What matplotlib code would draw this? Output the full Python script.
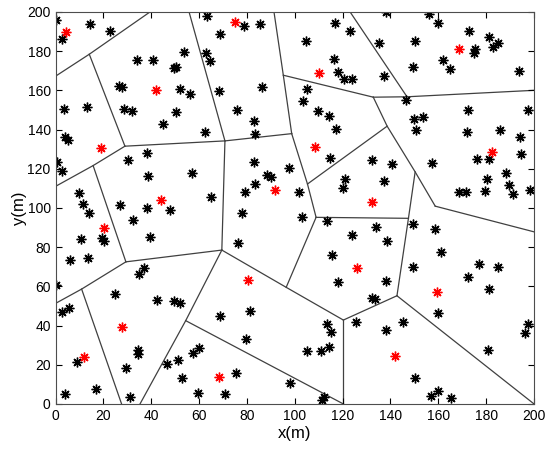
import matplotlib
matplotlib.use("Agg")
import matplotlib.pyplot as plt

plt.rcParams['font.family'] = ['Liberation Sans', 'DejaVu Sans']

# cluster heads (red)
red_x = [4.3, 42.0, 75.0, 110.2, 168.7, 19.2, 44.1, 20.3, 108.5, 91.8,
         182.4, 132.2, 27.9, 11.8, 80.3, 68.3, 125.9, 159.4, 142.0]
red_y = [189.8, 160.1, 194.9, 168.6, 181.3, 130.4, 104.0, 89.6, 130.9, 109.1,
         128.3, 103.1, 39.4, 24.1, 63.2, 13.6, 69.2, 57.3, 24.5]

# sensor nodes (black)
black_pts = [
    (0.1, 195.8), (2.9, 186.1), (14.4, 193.7), (22.7, 190.2), (33.9, 175.7), (40.8, 175.7),
    (53.7, 179.6), (49.3, 171.3), (50.3, 171.7), (26.5, 162.1), (27.6, 161.5), (52.0, 160.9),
    (56.2, 158.0), (3.6, 150.4), (13.2, 151.3), (28.7, 150.6), (32.1, 149.5), (50.2, 149.0),
    (45.0, 142.7), (3.9, 136.3), (5.4, 134.8), (62.5, 138.5), (63.2, 197.8), (62.9, 179.1),
    (64.6, 174.9),
    (78.8, 192.9), (85.5, 193.6), (68.7, 188.5), (68.5, 159.7), (86.4, 161.8), (76.0, 150.2),
    (83.1, 144.3), (83.4, 137.5), (116.9, 194.4), (123.1, 190.2), (104.7, 185.2), (116.2, 175.9),
    (118.2, 169.4), (120.6, 165.8), (123.8, 166.0), (105.3, 160.7), (103.6, 154.6), (109.9, 149.4),
    (114.1, 146.8), (117.3, 140.2),
    (138.0, 199.7), (156.2, 198.7), (159.8, 194.1), (172.9, 190.3), (135.4, 184.2), (150.3, 185.1),
    (181.0, 187.0), (184.9, 184.2), (182.8, 182.2), (175.4, 181.0), (174.7, 179.1), (161.9, 175.4),
    (149.6, 172.0), (165.0, 171.1), (137.1, 167.2), (193.6, 169.8), (146.6, 155.0), (172.4, 149.9),
    (197.3, 149.9), (149.9, 145.6), (153.6, 146.5), (150.6, 140.0), (172.0, 138.8), (185.9, 139.7),
    (194.3, 136.3),
    (194.6, 127.4), (176.1, 124.9), (181.3, 124.9), (132.2, 124.4), (140.6, 122.2), (157.3, 122.7),
    (188.4, 117.6), (180.3, 114.7), (137.4, 113.8), (189.7, 111.6), (198.2, 109.1), (168.7, 107.9),
    (171.7, 107.9), (179.7, 108.6), (191.2, 106.9), (133.9, 90.4), (149.6, 91.6), (158.7, 89.4),
    (138.5, 83.1), (161.1, 77.6), (149.6, 70.0), (176.8, 71.4), (184.9, 70.0),
    (172.6, 64.6), (138.1, 62.9), (181.3, 58.6), (132.2, 54.2), (133.6, 53.4), (159.8, 46.5),
    (145.4, 41.7), (197.5, 40.8), (196.4, 36.4), (138.1, 37.7), (180.8, 27.5), (150.3, 13.1),
    (159.7, 6.8), (156.9, 4.2), (165.4, 2.9),
    (102.9, 95.5), (113.6, 93.3), (124.1, 86.2), (115.7, 76.0), (118.2, 62.4), (125.6, 42.0),
    (113.4, 40.7), (115.2, 36.9), (114.8, 125.7), (97.7, 120.2), (120.9, 114.6), (120.3, 110.0),
    (83.0, 123.6), (88.3, 116.7), (90.0, 115.9), (83.4, 112.0), (79.2, 107.9), (101.9, 108.2),
    (65.0, 105.4), (77.8, 97.2), (76.2, 82.2),
    (0.4, 123.5), (2.9, 118.8), (30.4, 124.7), (38.3, 128.1), (38.7, 116.4), (56.9, 117.6),
    (9.9, 107.4), (11.3, 102.0), (13.9, 97.5), (26.9, 101.3), (38.3, 100.1), (47.8, 98.9),
    (32.2, 93.8), (39.5, 85.3), (10.6, 84.1), (19.5, 84.8), (20.3, 83.1), (6.0, 73.4),
    (13.4, 74.3), (37.1, 69.4), (35.0, 66.3),
    (0.0, 60.7), (24.8, 55.9), (42.3, 53.0), (49.5, 52.5), (52.0, 51.6), (2.5, 46.7),
    (5.7, 49.1), (34.3, 27.5), (34.6, 25.3), (8.8, 21.3), (29.4, 18.5), (46.4, 20.4),
    (51.3, 22.4), (52.7, 13.1), (57.3, 25.8), (60.0, 28.4), (3.9, 4.9), (16.9, 7.6),
    (31.1, 3.7), (59.4, 5.5),
    (68.7, 44.9), (81.3, 47.4), (79.5, 33.0), (75.3, 15.7), (70.8, 4.9), (98.0, 10.6),
    (105.0, 27.2), (110.9, 27.2), (114.5, 29.2), (112.0, 3.7), (111.5, 2.0),
]
black_x = [p[0] for p in black_pts]
black_y = [p[1] for p in black_pts]

# partition vertices
verts = {
    'A': (0, 167.2), 'B': (39.5, 200), 'C': (14.1, 178.4), 'D': (29.0, 131.5),
    'E': (0, 111.0), 'F': (15.7, 121.6), 'G': (70.8, 134.2), 'H': (55.8, 200),
    'I': (98.7, 137.9), 'J': (95.2, 167.7), 'K': (91.3, 200), 'L': (132.8, 156.5),
    'M': (123.1, 200), 'N': (146.9, 156.7), 'O': (200, 160.0), 'P': (138.6, 141.7),
    'Q': (105.3, 112.2), 'R': (108.9, 95.2), 'S': (150.3, 118.4), 'T': (158.7, 100.9),
    'U': (200, 87.8), 'V': (147.5, 94.7), 'W': (142.7, 55.2), 'X': (200, 0),
    'Y': (120.3, 42.8), 'Z': (120.3, 0), 'AA': (96.4, 59.5), 'AB': (69.5, 78.5),
    'AC': (29.4, 72.5), 'AD': (0, 51.3), 'AE': (10.9, 58.6), 'AF': (27.6, 0),
    'AG': (35.3, 0), 'AH': (54.4, 42.5),
}
edges = [
    ['A', 'C', 'B'], ['C', 'D'], ['D', 'F', 'E'], ['F', 'AC'], ['D', 'G'], ['H', 'G'],
    ['G', 'I'], ['K', 'J', 'I'], ['J', 'L'], ['M', 'N'], ['L', 'N', 'O'], ['I', 'Q', 'R'],
    ['Q', 'P'], ['L', 'P', 'S', 'T'], ['T', 'U'], ['S', 'V', 'W'], ['R', 'V'], ['R', 'AA'],
    ['AB', 'AA', 'Y'], ['W', 'Y'], ['W', 'X'], ['Y', 'Z'], ['G', 'AB'], ['AC', 'AB'],
    ['AD', 'AE', 'AC'], ['AE', 'AF'], ['AB', 'AH', 'AG'], ['AH', 'Z'],
]

fig = plt.figure(figsize=(5.5, 4.58), dpi=100)
ax = fig.add_axes([0.101, 0.118, 0.870, 0.856])

for e in edges:
    ax.plot([verts[v][0] for v in e], [verts[v][1] for v in e],
            color='0.25', lw=0.9, zorder=1)

star = (8, 2, 0)
ax.plot(black_x, black_y, linestyle='none', marker=star, color='black',
        ms=7, mew=1.0, zorder=2)
ax.plot(red_x, red_y, linestyle='none', marker=star, color='red',
        ms=7, mew=1.0, zorder=3)

ax.set_xlim(0, 200)
ax.set_ylim(0, 200)
ax.set_xticks(range(0, 201, 20))
ax.set_yticks(range(0, 201, 20))
ax.tick_params(direction='in', top=True, right=True, length=4, labelsize=10)
for s in ax.spines.values():
    s.set_color('0.3')
    s.set_linewidth(0.8)
ax.set_xlabel('x(m)', fontsize=12, labelpad=2)
ax.set_ylabel('y(m)', fontsize=12, labelpad=0)

fig.savefig('out.png', dpi=100)
